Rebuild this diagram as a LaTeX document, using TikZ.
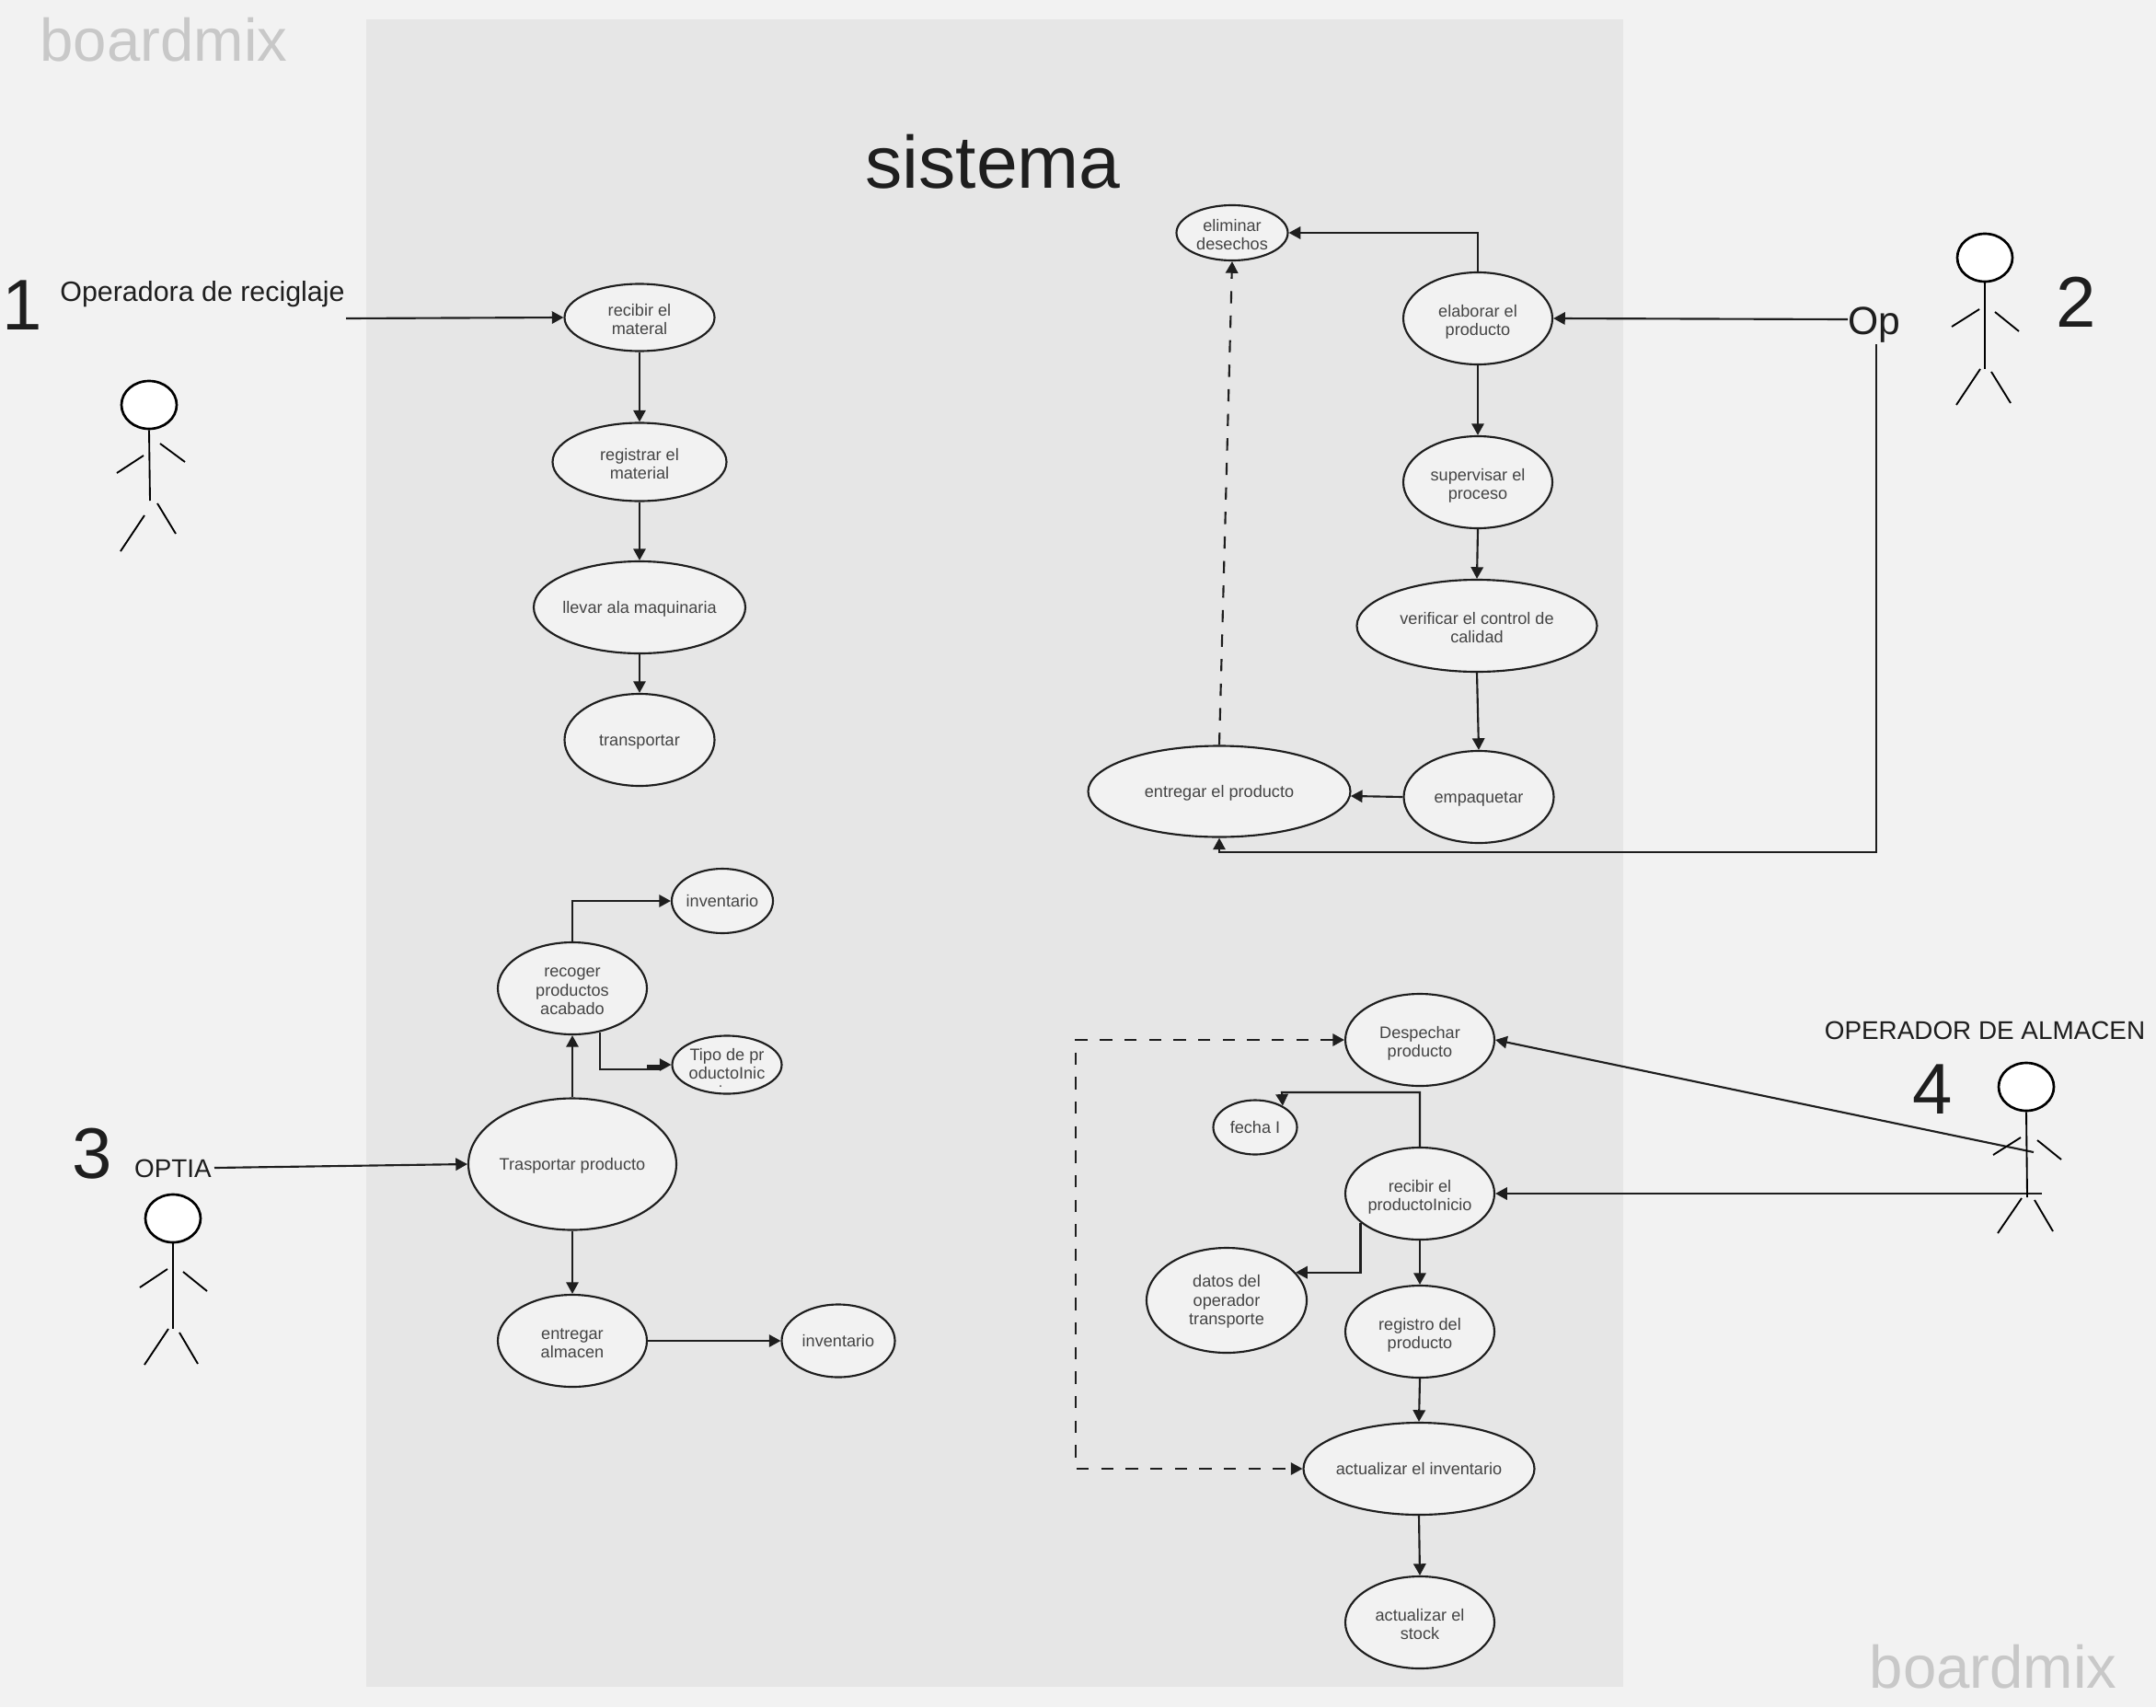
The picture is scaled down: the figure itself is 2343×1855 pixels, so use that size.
\documentclass[tikz,border=0pt]{standalone}
\usepackage{fontspec}
\setmainfont{Liberation Sans}
\usetikzlibrary{arrows.meta, shapes.geometric}

\definecolor{fondo}{HTML}{F2F2F2}
\definecolor{panel}{HTML}{E6E6E6}
\definecolor{trazo}{HTML}{1E1E1E}
\definecolor{texto}{HTML}{444444}
\definecolor{marca}{HTML}{C8C8C8}

\newcommand{\arriba}[1][15.2pt]{\rule{0pt}{#1}}

\tikzset{
  caso/.style 2 args={ellipse, draw=trazo, fill=fondo, line width=1.6pt, minimum width=#1*0.75pt, minimum height=#2*0.75pt,
    inner sep=-8pt, align=center, text=texto, font=\fontsize{13.6}{15.2}\selectfont,
    execute at begin node={\rule{0pt}{13.2pt}}, execute at end node={\rule[-3pt]{0pt}{3pt}}},
  flecha/.style={trazo, line width=1.6pt, -{Triangle[length=9.5pt,width=10pt]}},
  discont/.style={flecha, dash pattern=on 10pt off 10pt},
  palo/.style={black, line width=1.4pt},
  cabeza/.style={ellipse, draw=black, fill=white, line width=2pt, minimum width=60*0.75pt, minimum height=52*0.75pt, inner sep=0pt},
  rotulo/.style={anchor=base, inner sep=0pt, text=trazo, font=\fontsize{22.8}{26}\selectfont},
  rotulomay/.style={rotulo, font=\fontsize{20.9}{24}\selectfont},
  numero/.style={anchor=base, inner sep=0pt, text=trazo, font=\fontsize{58.5}{60}\selectfont},
  marcaagua/.style={anchor=base, inner sep=0pt, text=marca, font=\fontsize{49}{52}\selectfont}
}

\begin{document}
\begin{tikzpicture}[x=0.75pt, y=-0.75pt]

%%% Fondo y panel
\useasboundingbox (0,0) rectangle (2343,1855);
\fill[fondo] (0,0) rectangle (2343,1855);
\fill[panel] (398,21) rectangle (1764,1833);

%%% Textos sueltos
\node[marcaagua] (marca1) at (178,67) {boardmix};
\node[marcaagua] (marca2) at (2166,1834) {boardmix};
\node[anchor=base, inner sep=0pt, text=trazo, font=\fontsize{60.4}{64}\selectfont] (titulo) at (1079,204) {sistema};
\node[numero] (num1) at (24,358) {1};
\node[numero] (num2) at (2256,355) {2};
\node[numero] (num3) at (100,1280) {3};
\node[numero] (num4) at (2100,1210) {4};
\node[rotulo] (oprec) at (220,327) {Operadora de reciglaje};
\node[rotulo, font=\fontsize{32}{34}\selectfont] (op) at (2037,363) {Op};
\node[rotulomay] (optia) at (188,1279) {OPTIA};
\node[rotulomay] (opalm) at (2157,1129) {OPERADOR DE ALMACEN};

%%% Casos arriba a la izquierda
\node[caso={163}{73}] (recibir) at (695,345) {\arriba recibir el\\materal};
\node[caso={189}{85}] (registrar) at (695,502) {\arriba registrar el\\material};
\node[caso={230}{100}] (llevar) at (695,660) {llevar ala maquinaria};
\node[caso={163}{100}] (transportar) at (695,804) {transportar};

%%% Casos arriba a la derecha
\node[caso={121}{60}] (eliminar) at (1339,253) {\arriba eliminar\\desechos};
\node[caso={162}{100}] (elaborar) at (1606,346) {\arriba elaborar el\\producto};
\node[caso={162}{100}] (supervisar) at (1606,524) {\arriba supervisar el\\proceso};
\node[caso={261}{100}] (verificar) at (1605,680) {\arriba verificar el control de\\calidad};
\node[caso={163}{100}] (empaquetar) at (1607,866) {empaquetar};
\node[caso={285}{99}] (entregar) at (1325,860) {entregar el producto};

%%% Casos abajo a la izquierda
\node[caso={110}{70}] (inv1) at (785,979) {inventario};
\node[caso={162}{100}] (recoger) at (622,1074) {\arriba recoger\\productos\\acabado};
\node[caso={119}{63}] (tipo) at (790,1157) {\arriba[11.2pt]Tipo de pr\\oductoInic};
\node[caso={226}{143}] (trasportar) at (622,1265) {Trasportar producto};
\node[caso={162}{100}] (almacen) at (622,1457) {\arriba entregar\\almacen};
\node[caso={123}{79}] (inv2) at (911,1457) {inventario};

%%% Casos abajo a la derecha
\node[caso={162}{100}] (despechar) at (1543,1130) {\arriba Despechar\\producto};
\node[caso={91}{59}] (fecha) at (1364,1225) {fecha I};
\node[caso={162}{100}] (recibirp) at (1543,1297) {\arriba recibir el\\productoInicio};
\node[caso={174}{114}] (datos) at (1333,1413) {\arriba[12.2pt]datos del\\operador\\transporte};
\node[caso={162}{100}] (registro) at (1543,1447) {\arriba registro del\\producto};
\node[caso={251}{100}] (actinv) at (1542,1596) {actualizar el inventario};
\node[caso={162}{100}] (stock) at (1543,1763) {\arriba actualizar el\\stock};

%%% Resto del texto cortado y bloque junto a la flecha
\fill[texto] (783,1180) circle (1);
\fill[trazo] (703,1157) rectangle (717,1162);

%%% Puntos de paso
\coordinate (p1) at (376,346);
\coordinate (p2) at (2008,347);
\coordinate (p3) at (2039,374);
\coordinate (p4) at (2039,926);
\coordinate (p5) at (233,1269);
\coordinate (p6) at (717,1162);
\coordinate (p7) at (1393,1187);
\coordinate (p8) at (2210,1252);
\coordinate (p9) at (2219,1297);
\coordinate (p10) at (1169,1130);

%%% Conectores de los casos
\draw[flecha] (p1) -- (recibir.west);
\draw[flecha] (recibir.south) -- (registrar.north);
\draw[flecha] (registrar.south) -- (llevar.north);
\draw[flecha] (llevar.south) -- (transportar.north);

\draw[flecha] (p2) -- (elaborar.east);
\draw[flecha] (elaborar.north) |- (eliminar.east);
\draw[flecha] (elaborar.south) -- (supervisar.north);
\draw[flecha] (supervisar.south) -- (verificar.north);
\draw[flecha] (verificar.south) -- (empaquetar.north);
\draw[flecha] (empaquetar.west) -- (entregar.-2);
\draw[flecha] (p3) -- (p4) -- (p4 -| entregar.south) -- (entregar.south);
\draw[discont] (entregar.north) -- (eliminar.south);

\draw[flecha] (p5) -- (trasportar.west);
\draw[flecha] (trasportar.north) -- (recoger.south);
\draw[flecha] (recoger.north) |- (inv1.west);
\draw[trazo, line width=1.6pt] (recoger.-58) |- (p6);
\draw[flecha] (p6 |- tipo.west) -- (tipo.west);
\draw[flecha] (trasportar.south) -- (almacen.north);
\draw[flecha] (almacen.east) -- (inv2.west);

\draw[flecha] (p8) -- (despechar.east);
\draw[flecha] (p9) -- (recibirp.east);
\draw[flecha] (recibirp.north) |- (p7) -- (fecha.38);
\draw[flecha] (recibirp.206) |- (datos.22);
\draw[flecha] (recibirp.south) -- (registro.north);
\draw[flecha] (registro.south) -- (actinv.north);
\draw[flecha] (actinv.south) -- (stock.north);
\draw[discont, {Triangle[length=9.5pt,width=10pt]}-{Triangle[length=9.5pt,width=10pt]}] (despechar.west) -- (p10) -- (p10 |- actinv.west) -- (actinv.west);

%%% Monigote 1
\node[cabeza] (cabeza1) at (162,440) {};
\draw[palo] (cabeza1.south) -- (163,544);
\draw[palo] (156,495) -- (127,514);
\draw[palo] (174,482) -- (201,502);
\draw[palo] (157,560) -- (131,599);
\draw[palo] (171,547) -- (191,580);

%%% Monigote 2
\node[cabeza] (cabeza2) at (2157,280) {};
\draw[palo] (cabeza2.south) -- (2157,401);
\draw[palo] (2151,336) -- (2121,355);
\draw[palo] (2168,339) -- (2194,360);
\draw[palo] (2152,401) -- (2126,440);
\draw[palo] (2164,404) -- (2185,438);

%%% Monigote 3
\node[cabeza] (cabeza3) at (188,1324) {};
\draw[palo] (cabeza3.south) -- (188,1444);
\draw[palo] (182,1379) -- (152,1399);
\draw[palo] (199,1382) -- (225,1403);
\draw[palo] (183,1444) -- (157,1483);
\draw[palo] (195,1448) -- (215,1482);

%%% Monigote 4
\node[cabeza] (cabeza4) at (2202,1181) {};
\draw[palo] (cabeza4.south) -- (2203,1301);
\draw[palo] (2196,1236) -- (2166,1255);
\draw[palo] (2214,1239) -- (2240,1260);
\draw[palo] (2197,1302) -- (2171,1340);
\draw[palo] (2211,1304) -- (2231,1338);

\end{tikzpicture}
\end{document}
